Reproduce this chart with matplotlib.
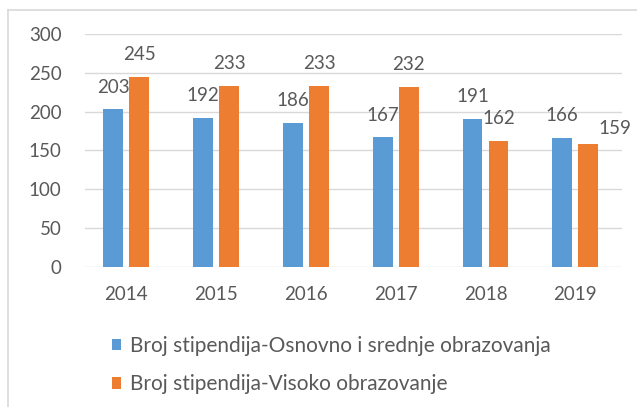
import matplotlib
matplotlib.use('Agg')
import matplotlib.pyplot as plt
from matplotlib.lines import Line2D
import numpy as np

years = ['2014', '2015', '2016', '2017', '2018', '2019']
osnovno = [203, 192, 186, 167, 191, 166]
visoko = [245, 233, 233, 232, 162, 159]
labels = ['Broj stipendija-Osnovno i srednje obrazovanja',
          'Broj stipendija-Visoko obrazovanje']

plt.rcParams['font.family'] = ['Lato', 'DejaVu Sans']
blue = '#5B9BD5'
orange = '#ED7D31'
txt = '#595959'
fs = 13.5

fig = plt.figure(figsize=(6.37, 4.07), dpi=100)
ax = fig.add_axes([85/637, 140/407, 537/637, 233/407])

x = np.arange(len(years))
w = 0.22
off = 0.145
b1 = ax.bar(x - off, osnovno, w, color=blue, label=labels[0], zorder=2)
b2 = ax.bar(x + off, visoko, w, color=orange, label=labels[1], zorder=2)

# vrijednosti iznad stubaca
for xi, v in zip(x - off, osnovno):
    ax.annotate(str(v), (xi, v), xytext=(0, 16), textcoords='offset points',
                ha='center', va='center', fontsize=fs, color=txt)
for i, (xi, v) in enumerate(zip(x + off, visoko)):
    dx, dy = (0, 16)
    if i == len(years) - 1:
        dx, dy = (19, 11)  # zadnja oznaka je pomjerena udesno
    ax.annotate(str(v), (xi, v), xytext=(dx, dy), textcoords='offset points',
                ha='center', va='center', fontsize=fs, color=txt)

ax.set_xlim(-0.46, 5.52)
ax.set_ylim(0, 300)
ax.set_yticks(range(0, 301, 50))
ax.set_xticks(x)
ax.set_xticklabels(years)
ax.grid(axis='y', color='#D9D9D9', linewidth=1, zorder=0)
for s in ax.spines.values():
    s.set_visible(False)
ax.tick_params(length=0, labelsize=fs, colors=txt)
ax.tick_params(axis='y', pad=17)
ax.tick_params(axis='x', pad=14)

fig.legend(handles=[b1, b2], labels=labels, loc='center left',
           bbox_to_anchor=(112/637, 42/407), frameon=False, fontsize=15,
           labelcolor=txt, handlelength=0.45, handleheight=0.45,
           handletextpad=0.4, labelspacing=0.9, borderpad=0, borderaxespad=0)

# okvir grafikona
fig.add_artist(Line2D([8/637, 8/637], [0, 1 - 10/407], transform=fig.transFigure,
                      color='#D9D9D9', linewidth=1.2))
fig.add_artist(Line2D([8/637, 1], [1 - 10/407, 1 - 10/407], transform=fig.transFigure,
                      color='#D9D9D9', linewidth=1.2))

fig.savefig('out.png', dpi=100)
